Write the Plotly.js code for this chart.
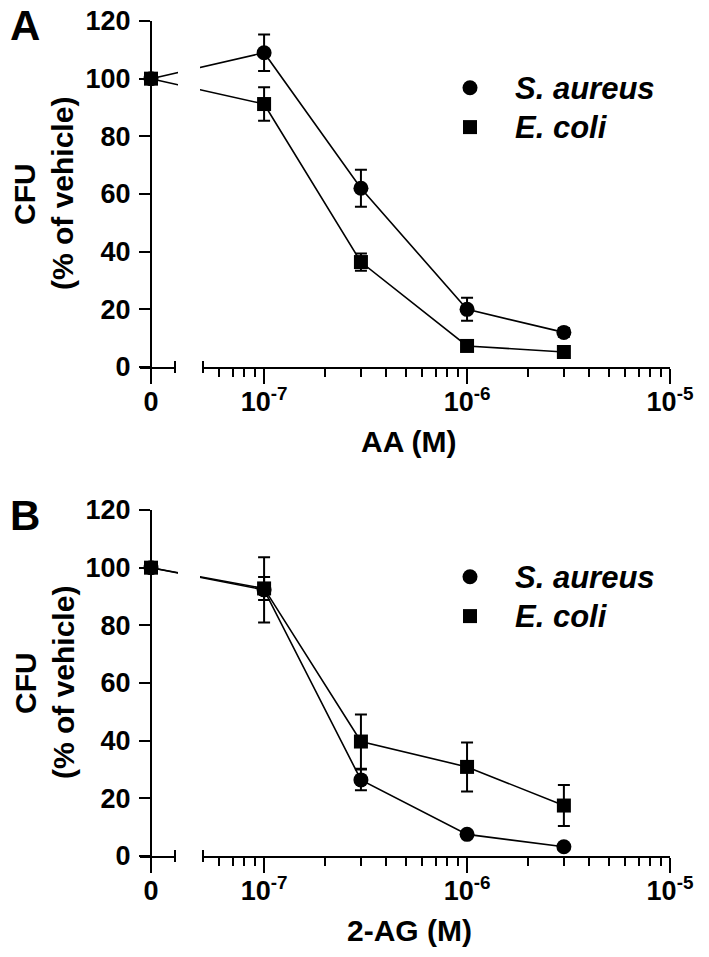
<!DOCTYPE html>
<html>
<head>
<meta charset="utf-8">
<script src="https://cdn.plot.ly/plotly-3.0.1.min.js"></script>
<style>
  html, body { margin: 0; padding: 0; background: #fff; }
  #chart { width: 709px; height: 957px; }
</style>
</head>
<body>
<div id="chart"></div>
<script>
// concentrations (M), 0 = vehicle
const conc = [0, 1e-7, 3e-7, 1e-6, 3e-6];
const seriesNames = ["S. aureus", "E. coli"];

// panel A : AA
const aaSaureus = [100, 109, 62, 20, 12];
const aaSaureusErr = [0, 6.3, 6.4, 4, 1.5];
const aaEcoli = [100, 91.2, 36.4, 7.3, 5.2];
const aaEcoliErr = [0, 5.8, 3, 1, 1];

// panel B : 2-AG
const agSaureus = [100, 92.3, 26.4, 7.5, 3.2];
const agSaureusErr = [0, 11.3, 3.6, 1, 1];
const agEcoli = [100, 92.8, 39.7, 30.9, 17.5];
const agEcoliErr = [0, 4, 9.4, 8.5, 7.1];

// axis ticks
const yTicks = [0, 20, 40, 60, 80, 100, 120];
const logTickVals = [1e-7, 1e-6, 1e-5];
const logTickText = ["10<sup>-7</sup>", "10<sup>-6</sup>", "10<sup>-5</sup>"];
const minorTickVals = [6e-8, 7e-8, 8e-8, 9e-8,
  2e-7, 3e-7, 4e-7, 5e-7, 6e-7, 7e-7, 8e-7, 9e-7,
  2e-6, 3e-6, 4e-6, 5e-6, 6e-6, 7e-6, 8e-6, 9e-6];

// ---- layout geometry (pixels) ----
const W = 709, H = 957;
const px = (v) => v / W;
const py = (v) => 1 - v / H;
const X_L = 140, X_ZERO = 151, X_BRK1 = 175, X_BRK2 = 203, X_R = 670;
const LOG_MIN = Math.log10(5e-8), LOG_MAX = -5;
const DEC = (X_R - X_BRK2) / (LOG_MAX - LOG_MIN);
const dataRange = [LOG_MAX - (X_R - X_L) / DEC, LOG_MAX];
// where the vehicle (0) sits on the hidden data axis
const VEH_X = Math.pow(10, LOG_MAX - (X_R - X_ZERO) / DEC);
const xData = conc.map((c) => (c === 0 ? VEH_X : c));

const FONT = "Liberation Sans, Arial, Helvetica, sans-serif";
const tickFont = { family: FONT, size: 27, color: "black", weight: "bold" };
const titleFont = { family: FONT, size: 30, color: "black", weight: "bold" };

const traces = [];
const layout = {
  width: W,
  height: H,
  margin: { l: 0, r: 0, t: 0, b: 0 },
  paper_bgcolor: "white",
  plot_bgcolor: "rgba(0,0,0,0)",
  showlegend: true,
  hovermode: false,
  annotations: [],
  shapes: [],
};

function addPanel(p) {
  const n = p.index; // 0 or 1
  const xd = n === 0 ? "x" : "x4";
  const xz = "x" + (n * 3 + 2);
  const xl = "x" + (n * 3 + 3);
  const yy = n === 0 ? "y" : "y2";
  const legendId = n === 0 ? "legend" : "legend2";
  const ax = (id) => (id === "x" ? "xaxis" : "xaxis" + id.slice(1));
  const yKey = n === 0 ? "yaxis" : "yaxis2";

  const series = [
    { name: seriesNames[0], y: p.sa, err: p.saErr, symbol: "circle", size: 15 },
    { name: seriesNames[1], y: p.ec, err: p.ecErr, symbol: "square", size: 14 },
  ];

  // empty traces so the two visible x-axis segments get drawn
  [xz, xl].forEach((xa) => {
    traces.push({
      type: "scatter", mode: "markers", x: [], y: [],
      xaxis: xa, yaxis: yy, showlegend: false, hoverinfo: "skip",
    });
  });

  // connecting lines
  series.forEach((s) => {
    traces.push({
      type: "scatter",
      mode: "lines",
      x: xData,
      y: s.y,
      xaxis: xd,
      yaxis: yy,
      line: { color: "black", width: 1.6 },
      showlegend: false,
      hoverinfo: "skip",
    });
  });
  // markers + error bars
  series.forEach((s) => {
    traces.push({
      type: "scatter",
      mode: "markers",
      x: xData,
      y: s.y,
      xaxis: xd,
      yaxis: yy,
      name: '<span style="font-size:31px">' + s.name + "</span>",
      legend: legendId,
      marker: { symbol: s.symbol, size: s.size, color: "black" },
      error_y: { type: "data", array: s.err, visible: true, color: "black", thickness: 2, width: 6 },
      cliponaxis: false,
      hoverinfo: "skip",
    });
  });

  // hidden data axis spanning both x segments
  layout[ax(xd)] = {
    type: "log",
    domain: [px(X_L), px(X_R)],
    range: dataRange,
    anchor: yy,
    visible: false,
    fixedrange: true,
  };
  // "0" segment
  layout[ax(xz)] = {
    domain: [px(X_L), px(X_BRK1)],
    range: [X_L - X_ZERO, X_BRK1 - X_ZERO],
    anchor: yy,
    tickmode: "array",
    tickvals: [0],
    ticktext: ["0"],
    ticks: "outside",
    ticklen: 15,
    tickwidth: 2,
    tickcolor: "black",
    showline: true,
    linewidth: 2,
    linecolor: "black",
    showgrid: false,
    zeroline: false,
    tickfont: tickFont,
    ticklabelstandoff: -5,
    fixedrange: true,
  };
  // log segment
  layout[ax(xl)] = {
    type: "log",
    domain: [px(X_BRK2), px(X_R)],
    range: [LOG_MIN, LOG_MAX],
    anchor: yy,
    tickmode: "array",
    tickvals: logTickVals,
    ticktext: logTickText,
    ticks: "outside",
    ticklen: 15,
    tickwidth: 2,
    tickcolor: "black",
    minor: {
      tickmode: "array",
      tickvals: minorTickVals,
      ticks: "outside",
      ticklen: 8,
      tickwidth: 2,
      tickcolor: "black",
      showgrid: false,
    },
    showline: true,
    linewidth: 2,
    linecolor: "black",
    showgrid: false,
    zeroline: false,
    tickfont: tickFont,
    ticklabelstandoff: -5,
    fixedrange: true,
  };
  layout[yKey] = {
    domain: [py(p.yBot), py(p.yTop)],
    range: [0, 120],
    anchor: "free",
    position: px(X_ZERO),
    tickmode: "array",
    tickvals: yTicks,
    ticks: "outside",
    ticklen: 11,
    tickwidth: 2,
    tickcolor: "black",
    showline: true,
    linewidth: 2,
    linecolor: "black",
    showgrid: false,
    zeroline: false,
    tickfont: tickFont,
    ticklabelstandoff: 3,
    fixedrange: true,
  };

  layout[legendId] = {
    x: px(425),
    y: py(p.legTop),
    xanchor: "left",
    yanchor: "top",
    bgcolor: "rgba(0,0,0,0)",
    font: { family: FONT, size: 28, color: "black", weight: "bold", style: "italic" },
    itemsizing: "trace",
    itemwidth: 80,
  };

  // break in the x axis: hide the line through the gap, add break marks
  layout.shapes.push({
    type: "rect", xref: "paper", yref: "paper", layer: "above",
    x0: px(X_BRK1 + 3), x1: px(X_BRK2 - 3), y0: py(p.yBot - 10), y1: py(p.yTop),
    fillcolor: "white", line: { width: 0 },
  });
  [X_BRK1, X_BRK2].forEach((bx) => {
    layout.shapes.push({
      type: "line", xref: "paper", yref: "paper", layer: "above",
      x0: px(bx), x1: px(bx), y0: py(p.yBot - 6), y1: py(p.yBot + 6),
      line: { color: "black", width: 2 },
    });
  });

  // panel letter, axis titles
  layout.annotations.push(
    {
      text: p.letter, xref: "paper", yref: "paper", x: px(25), y: py(p.yTop + 5),
      showarrow: false, xanchor: "center", yanchor: "middle",
      font: { family: FONT, size: 42, color: "black", weight: "bold" },
    },
    {
      text: "CFU", xref: "paper", yref: "paper", x: px(25), y: py(p.yTop + 173),
      showarrow: false, textangle: -90, xanchor: "center", yanchor: "middle", font: titleFont,
    },
    {
      text: "(% of vehicle)", xref: "paper", yref: "paper", x: px(63), y: py(p.yTop + 173),
      showarrow: false, textangle: -90, xanchor: "center", yanchor: "middle", font: titleFont,
    },
    {
      text: p.xTitle, xref: "paper", yref: "paper", x: px(409), y: py(p.yBot + 74),
      showarrow: false, xanchor: "center", yanchor: "middle", font: titleFont,
    }
  );
}

addPanel({
  index: 0, letter: "A", xTitle: "AA (M)", yTop: 21, yBot: 367, legTop: 63,
  sa: aaSaureus, saErr: aaSaureusErr, ec: aaEcoli, ecErr: aaEcoliErr,
});
addPanel({
  index: 1, letter: "B", xTitle: "2-AG (M)", yTop: 510, yBot: 856, legTop: 552,
  sa: agSaureus, saErr: agSaureusErr, ec: agEcoli, ecErr: agEcoliErr,
});

Plotly.newPlot("chart", traces, layout, { staticPlot: true, displayModeBar: false });
</script>
</body>
</html>
